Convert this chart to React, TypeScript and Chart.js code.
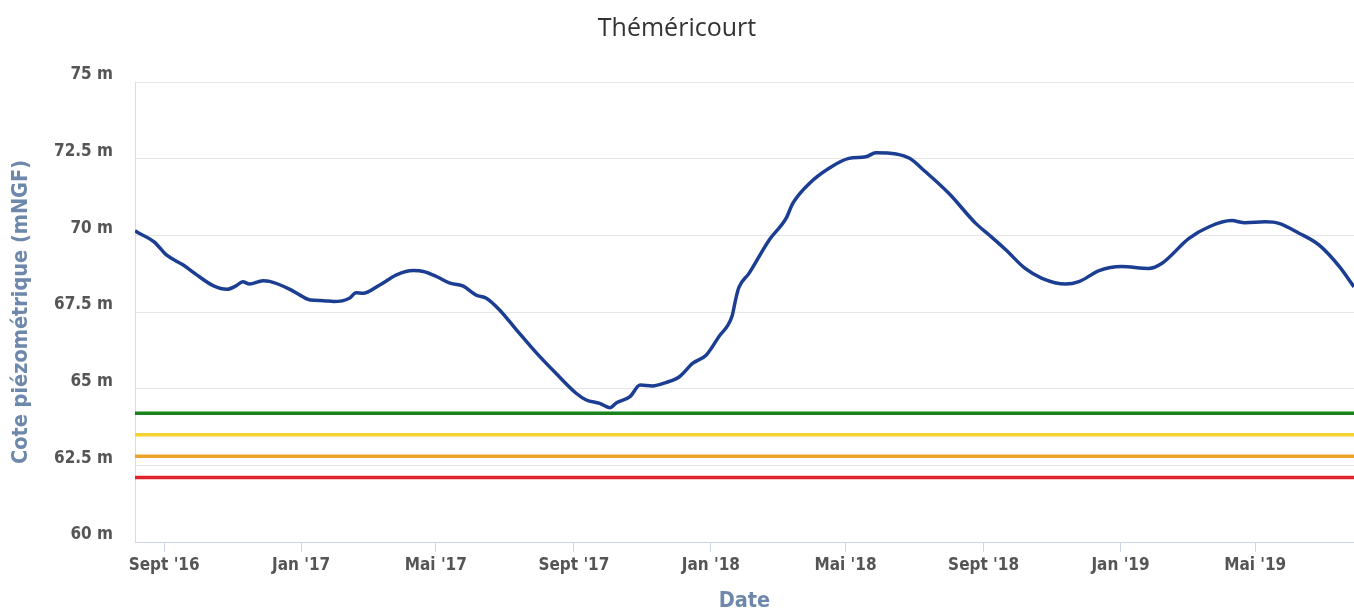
import React, { useEffect, useRef } from "react";
import { Chart, registerables } from "chart.js";

Chart.register(...registerables);

const chartTitle = "Théméricourt";
const yAxisTitle = "Cote piézométrique (mNGF)";
const xAxisTitle = "Date";

const dates = [
  "2016-08-06", "2016-08-08", "2016-08-23", "2016-09-03", "2016-09-18", "2016-09-30",
  "2016-10-15", "2016-10-27", "2016-11-04", "2016-11-10", "2016-11-16", "2016-11-28",
  "2016-12-04", "2016-12-22", "2016-12-31", "2017-01-09", "2017-01-21", "2017-01-30",
  "2017-02-13", "2017-02-19", "2017-02-25", "2017-03-12", "2017-03-27", "2017-04-11",
  "2017-04-20", "2017-05-02", "2017-05-13", "2017-05-25", "2017-06-06", "2017-06-15",
  "2017-06-27", "2017-07-12", "2017-07-30", "2017-08-16", "2017-09-03", "2017-09-12",
  "2017-09-24", "2017-10-03", "2017-10-09", "2017-10-21", "2017-10-30", "2017-11-10",
  "2017-11-22", "2017-12-04", "2017-12-16", "2017-12-28", "2018-01-08", "2018-01-20",
  "2018-01-23", "2018-01-26", "2018-02-04", "2018-02-22", "2018-03-09", "2018-03-15",
  "2018-03-30", "2018-04-16", "2018-05-04", "2018-05-19", "2018-05-28", "2018-06-15",
  "2018-06-27", "2018-07-11", "2018-08-01", "2018-08-25", "2018-09-06", "2018-09-21",
  "2018-10-08", "2018-10-23", "2018-11-13", "2018-11-25", "2018-12-13", "2019-01-02",
  "2019-01-26", "2019-02-07", "2019-03-03", "2019-03-21", "2019-04-10", "2019-04-22",
  "2019-05-10", "2019-05-22", "2019-06-09", "2019-06-27", "2019-07-15", "2019-07-28",
];

const levels = [
  70.15, 70.10, 69.79, 69.36, 69.03, 68.71,
  68.35, 68.24, 68.35, 68.49, 68.41, 68.52,
  68.50, 68.24, 68.05, 67.89, 67.87, 67.84,
  67.95, 68.13, 68.11, 68.38, 68.71, 68.85,
  68.82, 68.65, 68.45, 68.35, 68.05, 67.95,
  67.56, 66.91, 66.15, 65.50, 64.85, 64.63,
  64.52, 64.38, 64.54, 64.74, 65.12, 65.09,
  65.20, 65.39, 65.83, 66.10, 66.69, 67.38,
  67.89, 68.30, 68.76, 69.85, 70.55, 71.04,
  71.70, 72.18, 72.51, 72.56, 72.69, 72.65,
  72.51, 72.08, 71.37, 70.39, 70.01, 69.52,
  68.92, 68.60, 68.41, 68.49, 68.85, 68.98,
  68.92, 69.09, 69.90, 70.28, 70.48, 70.41,
  70.44, 70.39, 70.07, 69.68, 68.98, 68.32,
];

const thresholdValues = [64.2, 63.5, 62.8, 62.1];
const thresholdColors = ["#17831b", "#f3d232", "#eba32b", "#e0232a"];
const thresholdNames = ["Seuil 1", "Seuil 2", "Seuil 3", "Seuil 4"];

const tickDates = [
  "2016-09-01", "2017-01-01", "2017-05-01", "2017-09-01", "2018-01-01",
  "2018-05-01", "2018-09-01", "2019-01-01", "2019-05-01",
];
const tickLabels = [
  "Sept '16", "Jan '17", "Mai '17", "Sept '17", "Jan '18",
  "Mai '18", "Sept '18", "Jan '19", "Mai '19",
];

const yMin = 60;
const yMax = 75;
const yStep = 2.5;

const toMs = (d: string) => Date.parse(d);

export default function App() {
  const canvasRef = useRef<HTMLCanvasElement | null>(null);

  useEffect(() => {
    document.body.style.margin = "0";
    const canvas = canvasRef.current;
    if (!canvas) return;

    const xMin = toMs(dates[0]);
    const xMax = toMs(dates[dates.length - 1]);

    const tickFont = { family: "'DejaVu Sans Condensed', 'DejaVu Sans', sans-serif", size: 17, weight: "bold" as const };
    const axisTitleFont = { family: "'DejaVu Sans Condensed', 'DejaVu Sans', sans-serif", size: 21.5, weight: "bold" as const };

    const thresholdSets = thresholdValues.map((v, i) => ({
      label: thresholdNames[i],
      data: [
        { x: xMin, y: v },
        { x: xMax, y: v },
      ],
      borderColor: thresholdColors[i],
      borderWidth: 3.5,
      pointRadius: 0,
      fill: false,
      order: 2,
    }));

    const chart = new Chart(canvas, {
      type: "line",
      data: {
        datasets: [
          {
            label: chartTitle,
            data: dates.map((d, i) => ({ x: toMs(d), y: levels[i] })),
            borderColor: "#1b3e92",
            borderWidth: 3.5,
            pointRadius: 0,
            fill: false,
            cubicInterpolationMode: "monotone",
            order: 1,
          },
          ...thresholdSets,
        ],
      },
      options: {
        animation: false,
        responsive: false,
        layout: { padding: 0 },
        plugins: {
          legend: { display: false },
          tooltip: { enabled: false },
          title: {
            display: true,
            text: chartTitle,
            color: "#333333",
            font: { family: "'Open Sans', sans-serif", size: 25, weight: "normal" },
            padding: { top: 14, bottom: 38 },
          },
        },
        scales: {
          x: {
            type: "linear",
            min: xMin,
            max: xMax,
            afterBuildTicks: (scale: any) => {
              scale.ticks = tickDates.map((d) => ({ value: toMs(d) }));
            },
            afterFit: (scale: any) => {
              scale.height = 72;
            },
            grid: {
              display: true,
              drawOnChartArea: false,
              drawTicks: true,
              tickLength: 10,
              color: "#ccd6eb",
            },
            border: { display: true, color: "#ccd6eb" },
            ticks: {
              autoSkip: false,
              maxRotation: 0,
              padding: 3,
              color: "#555555",
              font: tickFont,
              callback: (_v: any, i: number) => tickLabels[i],
            },
            title: {
              display: true,
              text: xAxisTitle,
              color: "#6e88ab",
              font: axisTitleFont,
              padding: { top: 0, bottom: 0 },
            },
          },
          y: {
            type: "linear",
            min: yMin,
            max: yMax,
            afterFit: (scale: any) => {
              scale.width = 135;
            },
            grid: {
              color: "#e6e6e6",
              drawTicks: false,
            },
            border: { display: true, color: "#dcdcdc" },
            ticks: {
              stepSize: yStep,
              padding: 22,
              labelOffset: -7,
              color: "#555555",
              font: tickFont,
              callback: (v: any) => `${v} m`,
            },
            title: {
              display: true,
              text: yAxisTitle,
              color: "#6e88ab",
              font: axisTitleFont,
              padding: { top: 9, bottom: 0 },
            },
          },
        },
      },
    } as any);

    return () => {
      chart.destroy();
    };
  }, []);

  return (
    <div style={{ width: 1354, height: 614 }}>
      <canvas ref={canvasRef} width={1354} height={614} style={{ display: "block" }} />
    </div>
  );
}
